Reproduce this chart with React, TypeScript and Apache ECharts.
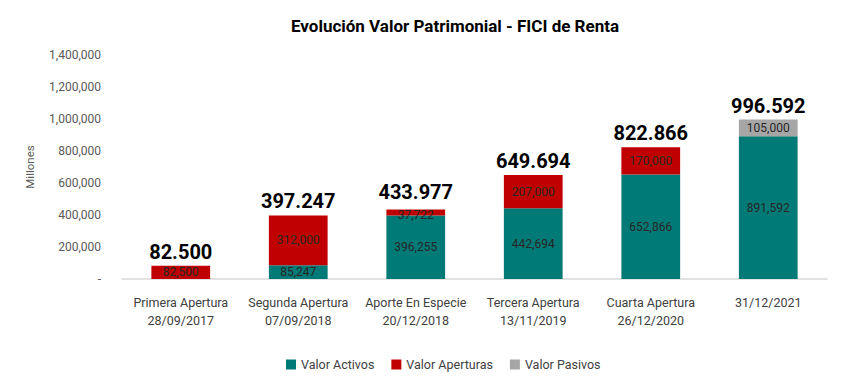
import React, { useEffect, useRef } from "react";
import * as echarts from "echarts";

const categories = [
  "Primera Apertura\n28/09/2017",
  "Segunda Apertura\n07/09/2018",
  "Aporte En Especie\n20/12/2018",
  "Tercera Apertura\n13/11/2019",
  "Cuarta Apertura\n26/12/2020",
  "31/12/2021",
];
const activos = [0, 85247, 396255, 442694, 652866, 891592];
const aperturas = [82500, 312000, 37722, 207000, 170000, 0];
const pasivos = [0, 0, 0, 0, 0, 105000];
const totals = ["82.500", "397.247", "433.977", "649.694", "822.866", "996.592"];

const FONT = "Roboto, 'Liberation Sans', sans-serif";

const fmt = (v: number) => v.toLocaleString("en-US");

export default function App() {
  const ref = useRef<HTMLDivElement>(null);
  useEffect(() => {
    document.body.style.margin = "0";
    if (!ref.current) return;
    const chart = echarts.init(ref.current, null, { renderer: "svg" });
    const inside = () => ({
      show: true,
      position: "inside" as const,
      color: "#262626",
      fontFamily: FONT,
      fontSize: 12,
      formatter: (p: any) => (p.value ? fmt(p.value) : ""),
    });
    chart.setOption({
      animation: false,
      textStyle: { fontFamily: FONT },
      title: {
        text: "Evolución Valor Patrimonial - FICI de Renta",
        left: 450,
        textAlign: "center",
        top: 12,
        textStyle: { fontFamily: FONT, fontWeight: "bold", fontSize: 17, color: "#000" },
      },
      legend: {
        data: ["Valor Activos", "Valor Aperturas", "Valor Pasivos"],
        top: 353,
        left: 281,
        itemWidth: 10,
        itemHeight: 10,
        itemGap: 17,
        icon: "rect",
        textStyle: { fontFamily: FONT, fontSize: 12.5, color: "#404040" },
      },
      grid: { left: 122, right: 17, top: 55, bottom: 103 },
      xAxis: {
        type: "category",
        data: categories,
        axisLine: { lineStyle: { color: "#D9D9D9", width: 1.5 } },
        axisTick: { show: false },
        axisLabel: {
          interval: 0,
          fontFamily: FONT,
          fontSize: 12.5,
          color: "#404040",
          lineHeight: 18,
          margin: 14,
        },
      },
      yAxis: {
        type: "value",
        min: 0,
        max: 1400000,
        interval: 200000,
        name: "Millones",
        nameLocation: "middle",
        nameGap: 86,
        nameTextStyle: { fontFamily: FONT, fontSize: 11.5, color: "#595959" },
        splitLine: { show: false },
        axisLine: { show: false },
        axisTick: { show: false },
        axisLabel: {
          fontFamily: FONT,
          fontSize: 12,
          color: "#595959",
          margin: 21,
          formatter: (v: number) => (v === 0 ? "-" : fmt(v)),
        },
      },
      series: [
        {
          name: "Valor Activos",
          type: "bar",
          stack: "t",
          barWidth: "50%",
          data: activos,
          itemStyle: { color: "#007A76" },
          label: inside(),
        },
        {
          name: "Valor Aperturas",
          type: "bar",
          stack: "t",
          data: aperturas.map((v, i) =>
            i === 2 ? { value: v, label: { offset: [0, 2] } } : v
          ),
          itemStyle: { color: "#C00000" },
          label: inside(),
        },
        {
          name: "Valor Pasivos",
          type: "bar",
          stack: "t",
          data: pasivos,
          itemStyle: { color: "#A6A6A6" },
          label: inside(),
        },
        {
          name: "Total",
          type: "bar",
          stack: "t",
          data: totals.map((_, i) =>
            i === 2 ? { value: 0, label: { distance: 8 } } : 0
          ),
          itemStyle: { color: "transparent" },
          label: {
            show: true,
            position: "top",
            distance: 4,
            fontFamily: FONT,
            fontWeight: "bold",
            fontSize: 20,
            color: "#000",
            formatter: (p: any) => totals[p.dataIndex],
          },
        },
      ],
    });
    return () => chart.dispose();
  }, []);
  return <div ref={ref} style={{ width: 844, height: 382 }} />;
}
